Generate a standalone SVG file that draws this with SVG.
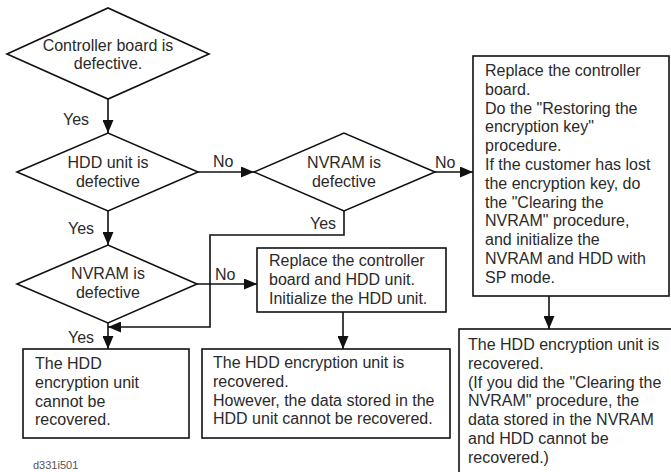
<svg xmlns="http://www.w3.org/2000/svg" width="671" height="472" viewBox="0 0 671 472">
<defs>
<style>
.shape{fill:#fff;stroke:#111;stroke-width:1.6}
.line{fill:none;stroke:#111;stroke-width:1.6}
text{font-family:"Liberation Sans",Arial,sans-serif;font-size:16px;fill:#2a2a2a}
.c{text-anchor:middle}
.lbl{font-size:11px;fill:#555}
</style>
<marker id="arr" markerUnits="userSpaceOnUse" markerWidth="13" markerHeight="11" refX="13" refY="5.5" orient="auto">
<path d="M0,0 L13,5.5 L0,11 z" fill="#111"/>
</marker>
</defs>
<rect width="671" height="472" fill="#fff"/>

<g id="connectors">
<line class="line" x1="108" y1="99" x2="108" y2="133" marker-end="url(#arr)"/>
<text x="63" y="125">Yes</text>
<line class="line" x1="108" y1="211" x2="108" y2="245" marker-end="url(#arr)"/>
<text x="68" y="234">Yes</text>
<line class="line" x1="198" y1="172" x2="254" y2="172" marker-end="url(#arr)"/>
<text x="213" y="167">No</text>
<line class="line" x1="435" y1="172" x2="473" y2="172" marker-end="url(#arr)"/>
<text x="435" y="168">No</text>
<polyline class="line" points="344,211 344,235 210,235 210,327 108,327" marker-end="url(#arr)"/>
<text x="310" y="229">Yes</text>
<line class="line" x1="197" y1="284" x2="257" y2="284" marker-end="url(#arr)"/>
<text x="215" y="280">No</text>
<line class="line" x1="108" y1="323" x2="108" y2="349" marker-end="url(#arr)"/>
<text x="68" y="343">Yes</text>
<line class="line" x1="343" y1="312" x2="343" y2="349" marker-end="url(#arr)"/>
<line class="line" x1="549" y1="296" x2="549" y2="329" marker-end="url(#arr)"/>
</g>

<g id="d1">
<polygon class="shape" points="7,54 108,8 209,54 108,99"/>
<text class="c" x="108" y="51">Controller board is</text>
<text class="c" x="108" y="69">defective.</text>
</g>

<g id="d2">
<polygon class="shape" points="17,172 108,133 198,172 108,211"/>
<text class="c" x="108" y="168">HDD unit is</text>
<text class="c" x="108" y="187">defective</text>
</g>

<g id="d3">
<polygon class="shape" points="254,172 344,133 435,172 344,211"/>
<text class="c" x="344" y="168">NVRAM is</text>
<text class="c" x="344" y="187">defective</text>
</g>

<g id="d4">
<polygon class="shape" points="17,284 108,245 197,284 108,323"/>
<text class="c" x="108" y="279">NVRAM is</text>
<text class="c" x="108" y="298">defective</text>
</g>

<g id="box-replace-both">
<rect class="shape" x="257" y="248" width="189" height="64"/>
<text x="269" y="266">Replace the controller</text>
<text x="269" y="284.8">board and HDD unit.</text>
<text x="269" y="303.6">Initialize the HDD unit.</text>
</g>

<g id="box-not-recovered">
<rect class="shape" x="23" y="349" width="166" height="89"/>
<text x="35" y="369">The HDD</text>
<text x="35" y="387.8">encryption unit</text>
<text x="35" y="406.6">cannot be</text>
<text x="35" y="425.4">recovered.</text>
</g>

<g id="box-recovered-data-lost">
<rect class="shape" x="202" y="349" width="248" height="89"/>
<text x="213" y="368">The HDD encryption unit is</text>
<text x="213" y="386.8">recovered.</text>
<text x="213" y="405.6">However, the data stored in the</text>
<text x="213" y="424.4">HDD unit cannot be recovered.</text>
</g>

<g id="box-replace-controller">
<rect class="shape" x="473" y="56" width="196" height="240"/>
<text x="485" y="76">Replace the controller</text>
<text x="485" y="94.8">board.</text>
<text x="485" y="113.6">Do the "Restoring the</text>
<text x="485" y="132.4">encryption key"</text>
<text x="485" y="151.2">procedure.</text>
<text x="485" y="170">If the customer has lost</text>
<text x="485" y="188.8">the encryption key, do</text>
<text x="485" y="207.6">the "Clearing the</text>
<text x="485" y="226.4">NVRAM" procedure,</text>
<text x="485" y="245.2">and initialize the</text>
<text x="485" y="264">NVRAM and HDD with</text>
<text x="485" y="282.8">SP mode.</text>
</g>

<g id="box-recovered">
<rect class="shape" x="459" y="329" width="220" height="160"/>
<text x="468" y="350">The HDD encryption unit is</text>
<text x="468" y="368.8">recovered.</text>
<text x="468" y="387.6">(If you did the "Clearing the</text>
<text x="468" y="406.4">NVRAM" procedure, the</text>
<text x="468" y="425.2">data stored in the NVRAM</text>
<text x="468" y="444">and HDD cannot be</text>
<text x="468" y="462.8">recovered.)</text>
</g>

<text class="lbl" x="33" y="469">d331i501</text>
</svg>
